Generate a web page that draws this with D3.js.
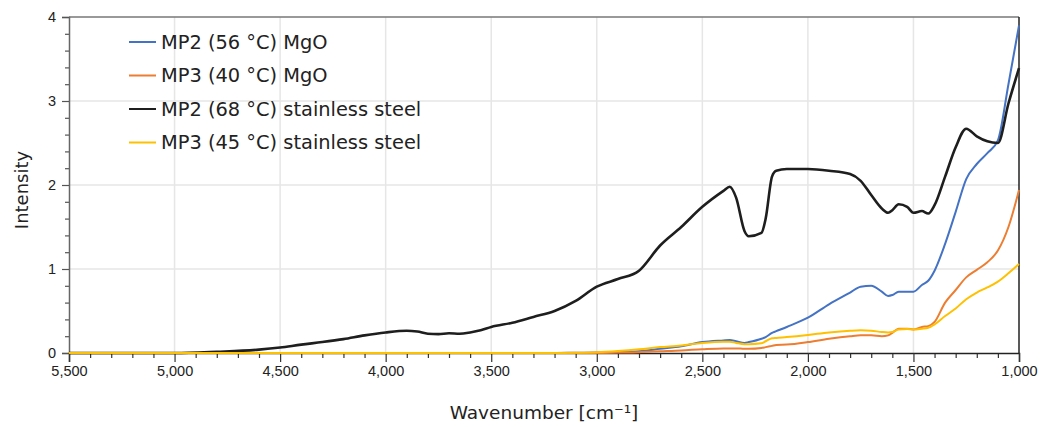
<!DOCTYPE html>
<html lang="en">
  <head>
    <meta charset="UTF-8" />
    <title>Intensity vs wavenumber</title>
    <script src="https://d3js.org/d3.v7.min.js"></script>
    <style>
      body { margin: 0; background: #fff; }
      svg { display: block; font-family: "DejaVu Sans", "Noto Sans", sans-serif; }
      .tick text { fill: #222; font-size: 14.5px; }
    </style>
  </head>
  <body>
    <svg id="chart" width="1057" height="427"></svg>
    <script>
      // wavenumber grid shared by all four spectra (cm-1)
      const wavenumbers = [5500, 5000, 4800, 4600, 4500, 4400, 4300, 4200, 4100, 4000,
        3900, 3850, 3800, 3750, 3700, 3650, 3600, 3550, 3500, 3400,
        3300, 3200, 3100, 3000, 2900, 2800, 2700, 2600, 2500, 2400,
        2370, 2340, 2300, 2280, 2220, 2200, 2170, 2150, 2100, 2000,
        1900, 1800, 1750, 1700, 1650, 1620, 1600, 1570, 1530, 1500,
        1460, 1430, 1400, 1350, 1300, 1250, 1200, 1150, 1100, 1050, 1000];

      const mp2MgO = [0, 0, 0, 0, 0, 0, 0, 0, 0, 0,
        0, 0, 0, 0, 0, 0, 0, 0, 0, 0,
        0, 0, 0.003, 0.005, 0.01, 0.02, 0.05, 0.08, 0.13, 0.15,
        0.155, 0.14, 0.12, 0.13, 0.17, 0.19, 0.24, 0.26, 0.31, 0.42,
        0.58, 0.72, 0.79, 0.8, 0.73, 0.68, 0.69, 0.73, 0.73, 0.73,
        0.81, 0.86, 0.98, 1.3, 1.68, 2.07, 2.25, 2.38, 2.53, 3.2, 3.9];

      const mp3MgO = [0, 0, 0, 0, 0, 0, 0, 0, 0, 0,
        0, 0, 0, 0, 0, 0, 0, 0, 0, 0,
        0, 0, 0, 0, 0.005, 0.01, 0.02, 0.03, 0.045, 0.055,
        0.055, 0.055, 0.05, 0.05, 0.06, 0.07, 0.085, 0.095, 0.1, 0.13,
        0.17, 0.2, 0.21, 0.21, 0.2, 0.21, 0.24, 0.29, 0.29, 0.28,
        0.31, 0.32, 0.37, 0.6, 0.75, 0.9, 0.99, 1.08, 1.22, 1.5, 1.94];

      const mp2Steel = [0, 0, 0.015, 0.04, 0.065, 0.1, 0.13, 0.165, 0.21, 0.245,
        0.265, 0.255, 0.23, 0.225, 0.235, 0.23, 0.245, 0.27, 0.31, 0.36,
        0.43, 0.5, 0.62, 0.79, 0.88, 0.98, 1.28, 1.5, 1.74, 1.93,
        1.98, 1.85, 1.45, 1.39, 1.43, 1.6, 2.1, 2.17, 2.19, 2.19,
        2.17, 2.13, 2.05, 1.88, 1.72, 1.67, 1.7, 1.77, 1.74, 1.67,
        1.69, 1.66, 1.76, 2.1, 2.45, 2.67, 2.58, 2.52, 2.5, 2.97, 3.39];

      const mp3Steel = [0, 0, 0, 0, 0, 0, 0, 0, 0, 0,
        0, 0, 0, 0, 0, 0, 0, 0, 0, 0,
        0, 0, 0.003, 0.01, 0.025, 0.045, 0.07, 0.09, 0.12, 0.135,
        0.135, 0.12, 0.105, 0.105, 0.115, 0.14, 0.175, 0.18, 0.19, 0.215,
        0.245, 0.265, 0.27, 0.265, 0.25, 0.245, 0.25, 0.28, 0.285, 0.28,
        0.29, 0.3, 0.34, 0.44, 0.53, 0.64, 0.72, 0.78, 0.85, 0.95, 1.06];

      const seriesNames = ["MP2 (56 °C) MgO", "MP3 (40 °C) MgO",
        "MP2 (68 °C) stainless steel", "MP3 (45 °C) stainless steel"];
      const seriesValues = [mp2MgO, mp3MgO, mp2Steel, mp3Steel];
      const seriesColors = ["#4472c4", "#ed7d31", "#1e1e1e", "#ffc000"];

      const xTicks = [5500, 5000, 4500, 4000, 3500, 3000, 2500, 2000, 1500, 1000];
      const yTicks = [0, 1, 2, 3, 4];

      const margin = { top: 17, right: 38, bottom: 74, left: 69 };
      const width = 1057, height = 427;
      const innerW = width - margin.left - margin.right;
      const innerH = height - margin.top - margin.bottom;

      const svg = d3.select("#chart");
      const g = svg.append("g").attr("transform", `translate(${margin.left},${margin.top})`);

      const x = d3.scaleLinear().domain([5500, 1000]).range([0, innerW]);
      const y = d3.scaleLinear().domain([0, 4]).range([innerH, 0]);

      // grid
      g.append("g").selectAll("line")
        .data(xTicks.slice(1, -1)).join("line")
        .attr("x1", d => x(d)).attr("x2", d => x(d))
        .attr("y1", 0).attr("y2", innerH)
        .attr("stroke", "#e6e6e6").attr("stroke-width", 1.5);
      g.append("g").selectAll("line")
        .data(yTicks.slice(1, -1)).join("line")
        .attr("x1", 0).attr("x2", innerW)
        .attr("y1", d => y(d)).attr("y2", d => y(d))
        .attr("stroke", "#e6e6e6").attr("stroke-width", 1.5);

      // frame: top grey, right dark
      g.append("line").attr("x1", 0).attr("x2", innerW).attr("y1", 0).attr("y2", 0)
        .attr("stroke", "#777").attr("stroke-width", 1.5);
      g.append("line").attr("x1", innerW).attr("x2", innerW).attr("y1", 0).attr("y2", innerH)
        .attr("stroke", "#222").attr("stroke-width", 1.5);

      // minor ticks
      const xMinor = d3.range(5400, 1000, -100).filter(v => v % 500 !== 0);
      g.append("g").attr("transform", `translate(0,${innerH})`)
        .call(d3.axisBottom(x).tickValues(xMinor).tickSize(5).tickFormat(""))
        .call(a => a.select(".domain").remove())
        .call(a => a.selectAll("line").attr("stroke", "#333").attr("stroke-width", 1.2));
      const yMinor = d3.range(0.2, 4, 0.2).filter(v => Math.abs(v - Math.round(v)) > 0.01);
      g.append("g")
        .call(d3.axisLeft(y).tickValues(yMinor).tickSize(4).tickFormat(""))
        .call(a => a.select(".domain").remove())
        .call(a => a.selectAll("line").attr("stroke", "#555").attr("stroke-width", 1.2));

      // main axes
      g.append("g").attr("transform", `translate(0,${innerH})`)
        .call(d3.axisBottom(x).tickValues(xTicks).tickSize(9).tickPadding(4).tickFormat(d3.format(",")))
        .call(a => a.select(".domain").attr("stroke", "#222").attr("stroke-width", 1.5))
        .call(a => a.selectAll(".tick line").attr("stroke", "#333").attr("stroke-width", 1.2));
      g.append("g")
        .call(d3.axisLeft(y).tickValues(yTicks).tickSize(7).tickPadding(6).tickFormat(d3.format("d")))
        .call(a => a.select(".domain").attr("stroke", "#666").attr("stroke-width", 1.5))
        .call(a => a.selectAll(".tick line").attr("stroke", "#555").attr("stroke-width", 1.2));

      // spectra
      const line = d3.line()
        .x((d, i) => x(wavenumbers[i]))
        .y(d => y(d))
        .curve(d3.curveMonotoneX);
      seriesValues.forEach((vals, k) => {
        g.append("path")
          .datum(vals)
          .attr("fill", "none")
          .attr("stroke", seriesColors[k])
          .attr("stroke-width", k === 2 ? 2.6 : 2)
          .attr("stroke-linejoin", "round")
          .attr("d", line);
      });

      // legend
      const legend = svg.append("g").attr("transform", "translate(129,42)");
      seriesNames.forEach((name, k) => {
        const row = legend.append("g").attr("transform", `translate(0,${k * 33.5})`);
        row.append("line").attr("x1", 0).attr("x2", 27).attr("y1", 0).attr("y2", 0)
          .attr("stroke", seriesColors[k]).attr("stroke-width", 2);
        row.append("text").attr("x", 32).attr("y", 0).attr("dy", "0.35em")
          .attr("fill", "#222").style("font-size", "19.4px").text(name);
      });

      // axis titles
      svg.append("text")
        .attr("x", margin.left + innerW / 2).attr("y", 419)
        .attr("text-anchor", "middle").attr("fill", "#222").style("font-size", "18.5px")
        .text("Wavenumber [cm⁻¹]");
      svg.append("text")
        .attr("transform", `translate(28,190) rotate(-90)`)
        .attr("text-anchor", "middle").attr("fill", "#222").style("font-size", "18px")
        .text("Intensity");
    </script>
  </body>
</html>
